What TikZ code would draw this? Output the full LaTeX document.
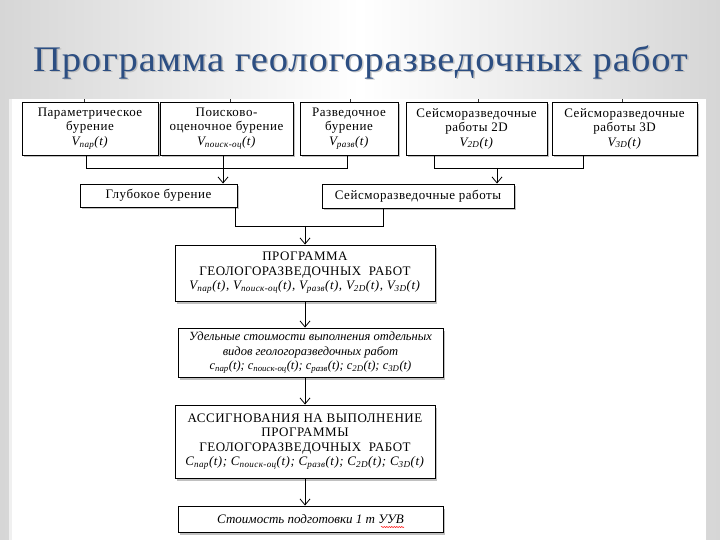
\documentclass[tikz,border=0pt]{standalone}
\usepackage{fontspec}
\setmainfont{Liberation Serif}
\newfontfamily\boxfont[LetterSpace=4]{Liberation Serif}
\newfontfamily\titlefont[LetterSpace=2]{Liberation Serif}
\usetikzlibrary{shadows,arrows.meta,decorations.pathmorphing}
\definecolor{titleblue}{RGB}{44,78,130}
\definecolor{bggray}{RGB}{214,214,214}
\begin{document}
\begin{tikzpicture}[x=1pt,y=-1pt,
  box/.style={draw=black, line width=0.9pt, fill=white, align=center, inner sep=0pt,
    drop shadow={shadow xshift=2pt, shadow yshift=-2.5pt, opacity=0.35, fill=black!70},
    font=\boxfont\fontsize{13}{14.5}\selectfont},
  itbox/.style={box, font=\boxfont\fontsize{12.5}{14.5}\selectfont\itshape},
  conn/.style={draw=black, line width=0.8pt},
  arr/.style={conn, -{Straight Barb[length=6pt,width=10pt,line width=0.8pt]}},
  tick/.style={draw=black!80, line width=0.9pt}]
\useasboundingbox (0,0) rectangle (720,540);
% background
\shade[left color=bggray, right color=bggray, middle color=white] (0,0) rectangle (720,540);
\fill[white] (9,99) rectangle (706,540);
\fill[black!6] (9,99) rectangle (12,540);
% title
\node[text=black!35, opacity=0.6, font=\titlefont\fontsize{36}{40}\selectfont, anchor=base] (titlesh) at (362,73) {\scalebox{1.075}[1]{Программа геологоразведочных работ}};
\node[text=titleblue, font=\titlefont\fontsize{36}{40}\selectfont, anchor=base] (title) at (360.5,71.5) {\scalebox{1.075}[1]{Программа геологоразведочных работ}};
% row 1
\node[box, minimum width=136pt, minimum height=53pt] (b1) at (90,128.5) {Параметрическое\\бурение\\\textit{V\textsubscript{пар}(t)}};
\node[box, minimum width=133pt, minimum height=53pt] (b2) at (226.5,128.5) {Поисково-\\оценочное бурение\\\textit{V\textsubscript{поиск-оц}(t)}};
\node[box, minimum width=98pt, minimum height=53pt] (b3) at (349,128.5) {Разведочное\\бурение\\\textit{V\textsubscript{разв}(t)}};
\node[box, minimum width=141pt, minimum height=53pt] (b4) at (476.5,128.5) {Сейсморазведочные\\работы 2D\\\textit{V\textsubscript{2D}(t)}};
\node[box, minimum width=145pt, minimum height=53pt] (b5) at (624.5,128.5) {Сейсморазведочные\\работы 3D\\\textit{V\textsubscript{3D}(t)}};
% ticks above row 1
\foreach \n/\dx in {b1/-6, b2/3.5, b3/1, b4/1.5, b5/-2.5}
  \draw[tick] ([xshift=\dx pt]\n.north) -- ++(0,-3);
% row 2
\node[box, minimum width=157pt, minimum height=23pt] (g1) at (158.5,195.5) {Глубокое бурение};
\node[box, minimum width=192pt, minimum height=24pt] (g2) at (418,196) {Сейсморазведочные работы};
% row1 -> row2
\draw[conn] ([xshift=-4pt]b1.south) -- ++(0,13) -| ([xshift=-2pt]b3.south);
\draw[arr] ([xshift=-3.5pt]b2.south) -- ([xshift=-3.5pt]b2.south |- g1.north);
\draw[conn] ([xshift=-42.5pt]b4.south) -- ++(0,13) -| ([xshift=-41.5pt]b5.south);
\coordinate (j2) at (497,168);
\draw[arr] (j2) -- (j2 |- g2.north);
% program box
\node[box, minimum width=260pt, minimum height=56pt] (p) at (305,273) {ПРОГРАММА\\ГЕОЛОГОРАЗВЕДОЧНЫХ~~РАБОТ\\\textit{V\textsubscript{пар}(t), V\textsubscript{поиск-оц}(t), V\textsubscript{разв}(t), V\textsubscript{2D}(t), V\textsubscript{3D}(t)}};
\draw[conn] ([xshift=76.5pt]g1.south) -- ++(0,19) -| ([xshift=-35pt]g2.south);
\coordinate (j3) at (305,226);
\draw[arr] (j3) -- (j3 |- p.north);
% unit costs
\node[itbox, minimum width=265pt, minimum height=49pt, font=\fontsize{12.5}{14.5}\selectfont\itshape] (u) at (310.5,352.5) {Удельные стоимости выполнения отдельных\\видов геологоразведочных работ\\c\textsubscript{пар}(t); c\textsubscript{поиск-оц}(t); c\textsubscript{разв}(t); c\textsubscript{2D}(t); c\textsubscript{3D}(t)};
\draw[arr] (p.south) -- (p.south |- u.north);
% appropriations
\node[box, minimum width=260pt, minimum height=73pt] (a) at (305,441.5) {АССИГНОВАНИЯ НА ВЫПОЛНЕНИЕ\\ПРОГРАММЫ\\ГЕОЛОГОРАЗВЕДОЧНЫХ~~РАБОТ\\\textit{C\textsubscript{пар}(t); C\textsubscript{поиск-оц}(t); C\textsubscript{разв}(t); C\textsubscript{2D}(t); C\textsubscript{3D}(t)}};
\draw[arr] (u.south -| a.north) -- (a.north);
% cost
\node[itbox, minimum width=265pt, minimum height=26pt, font=\fontsize{13}{14.5}\selectfont\itshape] (s) at (310.5,519) {Стоимость подготовки 1 т УУВ};
\draw[arr] (a.south) -- (a.south |- s.north);
\draw[red, line width=0.5pt, decorate, decoration={snake, amplitude=0.6pt, segment length=2.5pt}] (381,527) -- (404,527);
\end{tikzpicture}
\end{document}
